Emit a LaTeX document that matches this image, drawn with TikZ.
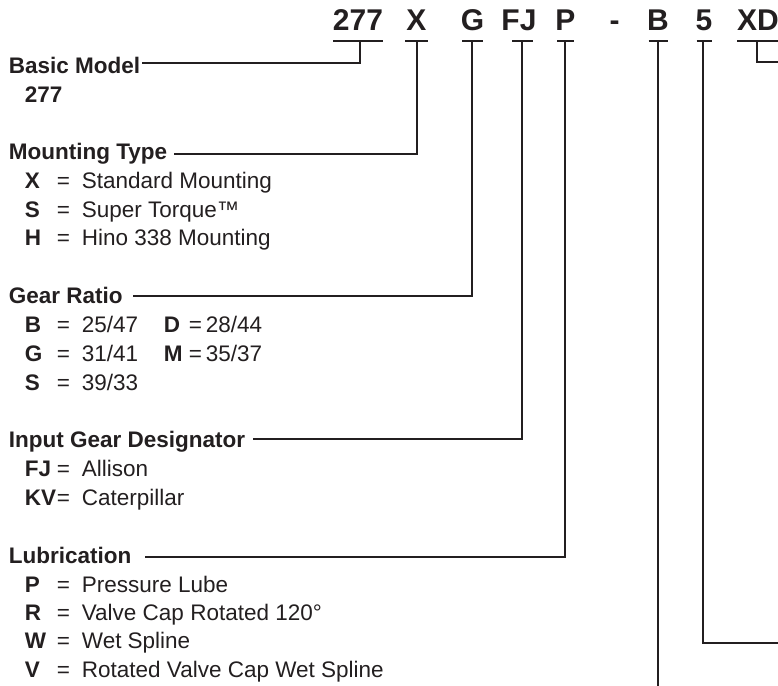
\documentclass[tikz,border=0pt]{standalone}
\usepackage{fontspec}
\setmainfont{Liberation Sans}

\definecolor{ink}{HTML}{231F20}

% one option line: bold code, equals sign, description
\newcommand{\codeline}[2]{\makebox[16pt][l]{\bfseries #1}\makebox[12.5pt][l]{=}#2}
\newcommand{\ratiocol}[2]{\makebox[12.5pt][l]{\bfseries #1}\makebox[8.5pt][l]{=}#2}

\tikzset{
  code/.style={font=\fontsize{15}{18}\selectfont\bfseries, inner sep=0pt, anchor=base},
  head/.style={font=\fontsize{11.25}{13}\selectfont\bfseries, inner sep=0pt, anchor=base west},
  item/.style={font=\fontsize{11.25}{13}\selectfont, inner sep=0pt, anchor=base west},
  lead/.style={line width=1pt}
}

\begin{document}
\begin{tikzpicture}[x=0.5pt, y=-0.5pt, color=ink]

\useasboundingbox (0,0) rectangle (778,686);

% Model code
\node[code] (c277) at (358,30) {277};
\node[code] (cX) at (416.5,30) {X};
\node[code] (cG) at (472.5,30) {G};
\node[code] (cFJ) at (519,30) {FJ};
\node[code] (cP) at (565.5,30) {P};
\node[code] (cDash) at (614.5,30) {-};
\node[code] (cB) at (658,30) {B};
\node[code] (c5) at (704,30) {5};
\node[code] (cXD) at (758,30) {XD};

% Bars under the code
\draw[lead] ([shift={(-25,11)}]c277.base) -- ([shift={(25,11)}]c277.base);
\draw[lead] ([shift={(-11.5,11)}]cX.base) -- ([shift={(11.5,11)}]cX.base);
\draw[lead] ([shift={(-10.5,11)}]cG.base) -- ([shift={(10.5,11)}]cG.base);
\draw[lead] ([shift={(-7,11)}]cFJ.base) -- ([shift={(14,11)}]cFJ.base);
\draw[lead] ([shift={(-8.5,11)}]cP.base) -- ([shift={(8.5,11)}]cP.base);
\draw[lead] ([shift={(-9.5,11)}]cB.base) -- ([shift={(9.5,11)}]cB.base);
\draw[lead] ([shift={(-7.5,11)}]c5.base) -- ([shift={(7.5,11)}]c5.base);
\draw[lead] ([shift={(-21,11)}]cXD.base) -- ([shift={(22,11)}]cXD.base);

% Basic model
\node[head] (hBasic) at (8.5,73) {Basic Model};
\node[head] (iBasic) at (24.5,102) {277};

% Mounting type
\node[head] (hMount) at (8.5,159) {Mounting Type};
\node[item] (iMountX) at (24.5,188) {\codeline{X}{Standard Mounting}};
\node[item] (iMountS) at (24.5,217) {\codeline{S}{Super Torque™}};
\node[item] (iMountH) at (24.5,245) {\codeline{H}{Hino 338 Mounting}};

% Gear ratio
\node[head] (hGear) at (8.5,303) {Gear Ratio};
\node[item] (iGearB) at (24.5,332) {\makebox[69.5pt][l]{\codeline{B}{25/47}}\ratiocol{D}{28/44}};
\node[item] (iGearG) at (24.5,361) {\makebox[69.5pt][l]{\codeline{G}{31/41}}\ratiocol{M}{35/37}};
\node[item] (iGearS) at (24.5,390) {\codeline{S}{39/33}};

% Input gear designator
\node[head] (hInput) at (8.5,447) {Input Gear Designator};
\node[item] (iInFJ) at (24.5,476) {\codeline{FJ}{Allison}};
\node[item] (iInKV) at (24.5,505) {\codeline{KV}{Caterpillar}};

% Lubrication
\node[head] (hLube) at (8.5,563) {Lubrication};
\node[item] (iLubeP) at (24.5,592) {\codeline{P}{Pressure Lube}};
\node[item] (iLubeR) at (24.5,620) {\codeline{R}{Valve Cap Rotated 120°}};
\node[item] (iLubeW) at (24.5,648) {\codeline{W}{Wet Spline}};
\node[item] (iLubeV) at (24.5,677) {\codeline{V}{Rotated Valve Cap Wet Spline}};

% Leaders to the headings
\draw[lead] ([shift={(2,11)}]c277.base) |- ([shift={(1,-10)}]hBasic.base east);
\draw[lead] ([shift={(0.5,11)}]cX.base) |- ([shift={(6.5,-5)}]hMount.base east);
\draw[lead] ([shift={(-0.5,11)}]cG.base) |- ([shift={(10,-7)}]hGear.base east);
\draw[lead] ([shift={(3,11)}]cFJ.base) |- ([shift={(7.5,-8)}]hInput.base east);
\draw[lead] ([shift={(-0.5,11)}]cP.base) |- ([shift={(13.5,-6)}]hLube.base east);

% Leaders running off the picture
\coordinate (bEnd) at (658,690);
\coordinate (fiveEnd) at (782,643);
\coordinate (xdEnd) at (782,62);
\draw[lead] ([yshift=-5.5pt]cB.base) -- (cB.base |- bEnd);
\draw[lead] ([shift={(-1,11)}]c5.base) |- (fiveEnd);
\draw[lead] ([shift={(-1,11)}]cXD.base) |- (xdEnd);

\end{tikzpicture}
\end{document}
